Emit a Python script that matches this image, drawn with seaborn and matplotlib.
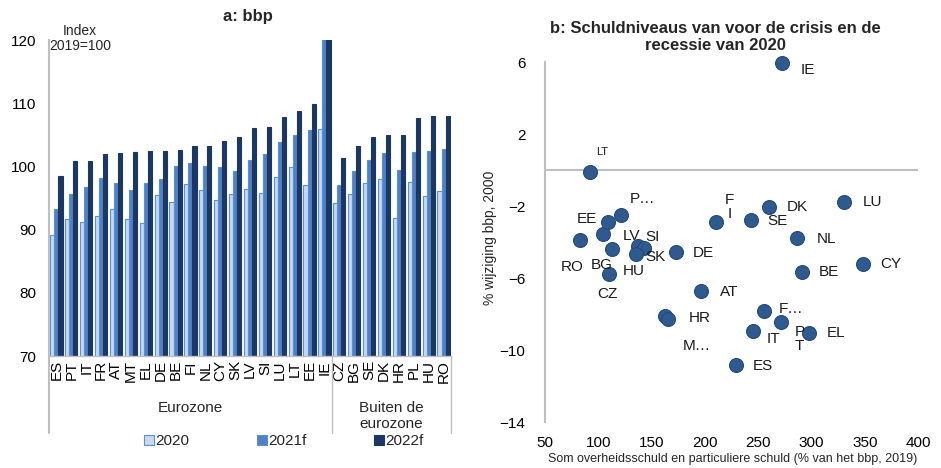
import matplotlib
matplotlib.use("Agg")
import matplotlib.pyplot as plt
import matplotlib.transforms as mtransforms
from matplotlib.patches import Patch
import seaborn as sns
import pandas as pd

# ---------------- data: panel a ----------------
countries = ["ES", "PT", "IT", "FR", "AT", "MT", "EL", "DE", "BE", "FI", "NL", "CY", "SK",
             "LV", "SI", "LU", "LT", "EE", "IE",
             "CZ", "BG", "SE", "DK", "HR", "PL", "HU", "RO"]
gdp_2020 = [89.2, 91.6, 91.2, 92.1, 93.3, 91.7, 91.0, 95.4, 94.4, 97.2, 96.2, 94.7, 95.7,
            96.4, 95.8, 98.3, 99.9, 97.1, 105.9,
            94.2, 95.6, 97.3, 98.0, 91.9, 97.5, 95.3, 96.1]
gdp_2021f = [93.3, 95.7, 96.7, 98.2, 97.4, 96.3, 97.4, 98.0, 100.0, 100.5, 100.0, 99.9, 99.3,
             101.0, 102.0, 103.9, 104.9, 105.8, 121.0,
             97.1, 99.3, 101.0, 102.1, 99.4, 102.2, 102.4, 102.7]
gdp_2022f = [98.5, 100.8, 100.9, 101.9, 102.1, 102.2, 102.4, 102.5, 102.6, 103.3, 103.3, 104.0, 104.6,
             106.1, 106.2, 107.8, 108.7, 109.8, 124.0,
             101.3, 103.3, 104.6, 104.9, 104.9, 107.6, 107.9, 107.9]
series_names = ["2020", "2021f", "2022f"]
group_names = ["Eurozone", "Buiten de\neurozone"]
n_euro = 19

# ---------------- data: panel b ----------------
sc_codes = ["IE", "LU", "DK", "SE", "FI", "NL", "CY", "BE", "AT", "FR", "PT", "EL", "IT", "ES",
            "DE", "HR", "MT", "SI", "LV", "SK", "HU", "RO", "BG", "CZ", "EE", "PL", "LT"]
sc_labels = ["IE", "LU", "DK", "SE", "F\nI", "NL", "CY", "BE", "AT", "F…", "P\nT", "EL", "IT", "ES",
             "DE", "HR", "M…", "SI", "LV", "SK", "HU", "RO", "BG", "CZ", "EE", "P…", "LT"]
debt_2019 = [272.0, 330.9, 260.2, 243.0, 210.2, 286.5, 348.4, 290.8, 196.1, 255.2, 271.8, 297.4, 245.5, 228.9,
             172.9, 162.6, 165.1, 137.0, 104.1, 142.6, 135.1, 83.3, 112.6, 110.3, 109.4, 121.3, 92.2]
gdp_change = [5.93, -1.76, -2.04, -2.78, -2.87, -3.80, -5.22, -5.65, -6.72, -7.83, -8.44, -9.04, -8.93, -10.83,
              -4.54, -8.09, -8.30, -4.21, -3.57, -4.33, -4.68, -3.89, -4.39, -5.79, -2.91, -2.50, -0.09]

# label offsets (pixels) - layout only
label_offsets = {
    "IE": (26, -7), "LU": (28, 0), "DK": (28, 0), "SE": (27, -1), "FI": (14, 15), "NL": (29, -1),
    "CY": (28, 0), "BE": (27, 0), "AT": (28, -1), "FR": (27, 2), "PT": (18, -17), "EL": (27, 0),
    "IT": (20, -8), "ES": (27, -1), "DE": (27, -1), "HR": (35, -2), "MT": (29, -27), "SI": (15, 9),
    "LV": (29, -2), "SK": (12, -9), "HU": (-2, -17), "RO": (-8, -27), "BG": (-10, -16), "CZ": (-2, -20),
    "EE": (-21, 3), "PL": (22, 16), "LT": (12, 20),
}

sns.set_theme(style="white")
plt.rcParams["font.family"] = ["Liberation Sans", "DejaVu Sans"]

fig = plt.figure(figsize=(9.41, 4.68), dpi=100)
W, H = 941, 468


def ax_rect(x0, y0, x1, y1):
    return [x0 / W, 1 - y1 / H, (x1 - x0) / W, (y1 - y0) / H]


# ================= panel a =================
ax1 = fig.add_axes(ax_rect(49, 40, 451, 356))
df = pd.DataFrame({
    "country": countries * 3,
    "series": [series_names[0]] * len(countries) + [series_names[1]] * len(countries) + [series_names[2]] * len(countries),
    "value": gdp_2020 + gdp_2021f + gdp_2022f,
})
bar_colors = ["#c6d9f1", "#4f81c7", "#1b3763"]
edge_colors = ["#5b8fd6", "#5b8fd6", "#1b3763"]
sns.barplot(data=df, x="country", y="value", hue="series", order=countries, hue_order=series_names,
            palette=bar_colors, width=0.82, ax=ax1, legend=False, saturation=1)
for cont, ec in zip(ax1.containers, edge_colors):
    for p in cont:
        p.set_edgecolor(ec)
        p.set_linewidth(0.8)
ax1.set_ylim(70, 120)
ax1.set_xlim(-0.5, len(countries) - 0.5)
ax1.set_yticks([70, 80, 90, 100, 110, 120])
ax1.set_xlabel("")
ax1.set_ylabel("")
ax1.tick_params(axis="both", length=0, labelsize=11, colors="#000000")
ax1.tick_params(axis="y", pad=9)
ax1.tick_params(axis="x", pad=3)
plt.setp(ax1.get_xticklabels(), rotation=90)
for s in ["top", "right"]:
    ax1.spines[s].set_visible(False)
ax1.spines["left"].set_color("#bfbfbf")
ax1.spines["left"].set_linewidth(1.5)
ax1.spines["bottom"].set_color("#bfbfbf")
ax1.spines["bottom"].set_linewidth(1.0)

trans = mtransforms.blended_transform_factory(ax1.transData, ax1.transAxes)
for xv in [-0.5, n_euro - 0.5, len(countries) - 0.5]:
    ax1.plot([xv, xv], [0, -0.245], transform=trans, color="#bfbfbf", lw=1.5 if xv == -0.5 else 1.0,
             clip_on=False)
ax1.text((n_euro - 1) / 2, -0.165, group_names[0], transform=trans, ha="center", va="center", fontsize=11)
ax1.text((n_euro + len(countries) - 1) / 2, -0.19, group_names[1], transform=trans, ha="center",
         va="center", fontsize=11, linespacing=1.15)
ax1.text(0.077, 1.005, "Index\n2019=100", transform=ax1.transAxes, ha="center", va="center",
         fontsize=10, linespacing=1.05)
fig.text(248 / W, 1 - 16 / H, "a: bbp", ha="center", va="center", fontsize=12, fontweight="bold")

handles = [Patch(facecolor=c, edgecolor=e, linewidth=0.8) for c, e in zip(bar_colors, edge_colors)]
fig.legend(handles, series_names, loc="center", bbox_to_anchor=(284 / W, 1 - 441 / H), ncol=3,
           frameon=False, fontsize=11, handlelength=0.65, handleheight=0.65, handletextpad=0.1,
           columnspacing=4.4)

# ================= panel b =================
ax2 = fig.add_axes(ax_rect(545, 62, 918, 422))
sdf = pd.DataFrame({"code": sc_codes, "label": sc_labels, "debt": debt_2019, "chg": gdp_change})
ax2.axhline(0, color="#bfbfbf", lw=1.5, zorder=1)
sns.scatterplot(data=sdf, x="debt", y="chg", ax=ax2, s=100, color="#2f5a8f", edgecolor="#234a7a",
                linewidth=0.8, zorder=3, clip_on=False)
for code, lab, xv, yv in zip(sc_codes, sc_labels, debt_2019, gdp_change):
    dx, dy = label_offsets[code]
    ax2.annotate(lab, (xv, yv), xytext=(dx, dy), textcoords="offset pixels", ha="center", va="center",
                 fontsize=8 if code == "LT" else 11, linespacing=1.0, color="#1a1a1a")
ax2.set_xlim(50, 400)
ax2.set_ylim(-14, 6)
ax2.set_xticks([50, 100, 150, 200, 250, 300, 350, 400])
ax2.set_yticks([6, 2, -2, -6, -10, -14])
ax2.set_xlabel("")
ax2.set_ylabel("")
ax2.tick_params(axis="both", length=0, labelsize=11, colors="#000000")
ax2.tick_params(axis="y", pad=14)
ax2.tick_params(axis="x", pad=10)
for s in ["top", "right", "bottom"]:
    ax2.spines[s].set_visible(False)
ax2.spines["left"].set_color("#bfbfbf")
ax2.spines["left"].set_linewidth(1.5)

fig.text(715 / W, 1 - 37 / H, "b: Schuldniveaus van voor de crisis en de\nrecessie van 2020", ha="center",
         va="center", fontsize=12, fontweight="bold", linespacing=1.1)
fig.text(490 / W, 1 - 238 / H, "% wijziging bbp, 2000", rotation=90, ha="center", va="center", fontsize=10)
fig.text(733 / W, 1 - 459 / H, "Som overheidsschuld en particuliere schuld (% van het bbp, 2019)",
         ha="center", va="center", fontsize=9)

fig.savefig("out.png", dpi=100)
